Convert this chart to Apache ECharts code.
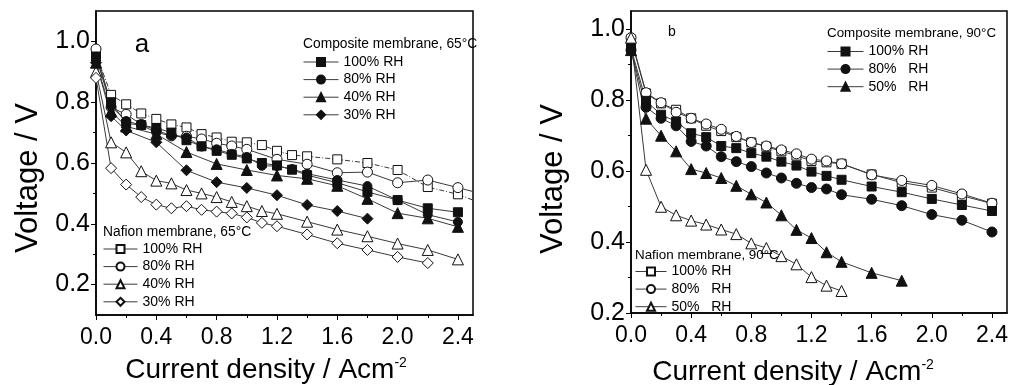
<!DOCTYPE html>
<html>
<head>
<meta charset="utf-8">
<script src="https://cdn.jsdelivr.net/npm/echarts@6/dist/echarts.min.js"></script>
<style>
  html, body { margin: 0; padding: 0; background: #fff; }
  #chart { width: 1011px; height: 385px; }
</style>
</head>
<body>
<div id="chart"></div>
<script>
// ---- Polarization data: current density (A cm^-2) and cell voltage (V) ----

// Panel a, 65 °C
const jA_comp100 = [0, 0.1, 0.2, 0.3, 0.4, 0.5, 0.6, 0.7, 0.8, 0.9, 1.0, 1.1, 1.2, 1.3, 1.4, 1.6, 1.8, 2.0, 2.2, 2.4];
const vA_comp100 = [0.95, 0.800, 0.730, 0.725, 0.715, 0.700, 0.675, 0.655, 0.640, 0.627, 0.615, 0.600, 0.592, 0.578, 0.560, 0.535, 0.505, 0.478, 0.451, 0.438];
const jA_comp80 = [0, 0.1, 0.2, 0.3, 0.4, 0.5, 0.6, 0.7, 0.8, 0.9, 1.0, 1.1, 1.2, 1.3, 1.4, 1.6, 1.8, 2.0, 2.2, 2.4];
const vA_comp80 = [0.95, 0.786, 0.738, 0.725, 0.700, 0.690, 0.684, 0.654, 0.645, 0.630, 0.620, 0.591, 0.590, 0.580, 0.565, 0.544, 0.524, 0.478, 0.430, 0.406];
const jA_comp40 = [0, 0.1, 0.2, 0.4, 0.6, 0.8, 1.0, 1.2, 1.4, 1.6, 1.8, 2.0, 2.2, 2.4];
const vA_comp40 = [0.93, 0.770, 0.720, 0.695, 0.636, 0.597, 0.577, 0.559, 0.548, 0.525, 0.482, 0.435, 0.418, 0.390];
const jA_comp30 = [0, 0.1, 0.2, 0.4, 0.6, 0.8, 1.0, 1.2, 1.4, 1.6, 1.8];
const vA_comp30 = [0.93, 0.754, 0.707, 0.668, 0.576, 0.537, 0.518, 0.494, 0.462, 0.442, 0.417];

const jA_naf100 = [0, 0.1, 0.2, 0.3, 0.4, 0.5, 0.6, 0.7, 0.8, 0.9, 1.0, 1.1, 1.2, 1.3, 1.4, 1.6, 1.8, 2.0, 2.2, 2.4, 2.5];
const vA_naf100 = [0.96, 0.824, 0.793, 0.763, 0.745, 0.727, 0.717, 0.695, 0.684, 0.670, 0.668, 0.659, 0.640, 0.626, 0.622, 0.612, 0.600, 0.577, 0.521, 0.497, 0.478];
const jA_naf80 = [0, 0.1, 0.2, 0.3, 0.4, 0.5, 0.6, 0.7, 0.8, 0.9, 1.0, 1.2, 1.4, 1.6, 1.8, 2.0, 2.2, 2.4, 2.5];
const vA_naf80 = [0.975, 0.783, 0.760, 0.727, 0.708, 0.689, 0.688, 0.679, 0.665, 0.656, 0.645, 0.612, 0.596, 0.568, 0.570, 0.535, 0.544, 0.519, 0.506];
const jA_naf40 = [0, 0.1, 0.2, 0.3, 0.4, 0.5, 0.6, 0.7, 0.8, 0.9, 1.0, 1.1, 1.2, 1.4, 1.6, 1.8, 2.0, 2.2, 2.4];
const vA_naf40 = [0.90, 0.668, 0.635, 0.573, 0.542, 0.533, 0.511, 0.500, 0.488, 0.472, 0.458, 0.442, 0.433, 0.407, 0.381, 0.359, 0.335, 0.314, 0.283];
const jA_naf30 = [0, 0.1, 0.2, 0.3, 0.4, 0.5, 0.6, 0.7, 0.8, 0.9, 1.0, 1.1, 1.2, 1.4, 1.6, 1.8, 2.0, 2.2];
const vA_naf30 = [0.88, 0.583, 0.529, 0.488, 0.463, 0.451, 0.458, 0.446, 0.440, 0.434, 0.421, 0.403, 0.392, 0.365, 0.336, 0.314, 0.291, 0.271];

// Panel b, 90 °C
const jB_comp100 = [0, 0.1, 0.2, 0.3, 0.4, 0.5, 0.6, 0.7, 0.8, 0.9, 1.0, 1.1, 1.2, 1.3, 1.4, 1.6, 1.8, 2.0, 2.2, 2.4];
const vB_comp100 = [0.945, 0.797, 0.758, 0.739, 0.706, 0.695, 0.670, 0.664, 0.650, 0.640, 0.626, 0.615, 0.598, 0.586, 0.575, 0.556, 0.540, 0.521, 0.504, 0.487];
const jB_comp80 = [0, 0.1, 0.2, 0.3, 0.4, 0.5, 0.6, 0.7, 0.8, 0.9, 1.0, 1.1, 1.2, 1.3, 1.4, 1.6, 1.8, 2.0, 2.2, 2.4];
const vB_comp80 = [0.94, 0.779, 0.748, 0.727, 0.683, 0.670, 0.640, 0.626, 0.612, 0.594, 0.580, 0.565, 0.553, 0.549, 0.533, 0.520, 0.502, 0.477, 0.461, 0.428];
const jB_comp50 = [0, 0.1, 0.2, 0.3, 0.4, 0.5, 0.6, 0.7, 0.8, 0.9, 1.0, 1.1, 1.2, 1.3, 1.4, 1.6, 1.8];
const vB_comp50 = [0.94, 0.747, 0.699, 0.655, 0.605, 0.594, 0.580, 0.558, 0.534, 0.511, 0.475, 0.434, 0.411, 0.371, 0.344, 0.313, 0.291];

const jB_naf100 = [0, 0.1, 0.2, 0.3, 0.4, 0.5, 0.6, 0.7, 0.8, 0.9, 1.0, 1.1, 1.2, 1.3, 1.4, 1.6, 1.8, 2.0, 2.2, 2.4];
const vB_naf100 = [0.97, 0.818, 0.790, 0.772, 0.748, 0.727, 0.712, 0.695, 0.680, 0.668, 0.655, 0.643, 0.628, 0.624, 0.620, 0.590, 0.567, 0.553, 0.530, 0.508];
const jB_naf80 = [0, 0.1, 0.2, 0.3, 0.4, 0.5, 0.6, 0.7, 0.8, 0.9, 1.0, 1.1, 1.2, 1.3, 1.4, 1.6, 1.8, 2.0, 2.2, 2.4];
const vB_naf80 = [0.975, 0.820, 0.792, 0.765, 0.748, 0.732, 0.717, 0.697, 0.680, 0.670, 0.659, 0.648, 0.633, 0.628, 0.620, 0.589, 0.573, 0.559, 0.535, 0.509];
const jB_naf50 = [0, 0.1, 0.2, 0.3, 0.4, 0.5, 0.6, 0.7, 0.8, 0.9, 1.0, 1.1, 1.2, 1.3, 1.4];
const vB_naf50 = [0.975, 0.603, 0.499, 0.475, 0.460, 0.449, 0.435, 0.422, 0.396, 0.383, 0.360, 0.337, 0.301, 0.277, 0.262];

// Axis ticks
const xMajorTicks = [0, 0.4, 0.8, 1.2, 1.6, 2.0, 2.4];
const xMinorTicks = [0.2, 0.6, 1.0, 1.4, 1.8, 2.2];
const yMajorTicks = [0.2, 0.4, 0.6, 0.8, 1.0];
const yMinorTicksA = [0.3, 0.5, 0.7, 0.9];
const yMinorTicksB = [0.3, 0.5, 0.7, 0.9];

// Legend captions
const legendLabels = {
  'comp65-100': '100% RH', 'comp65-80': '80% RH', 'comp65-40': '40% RH', 'comp65-30': '30% RH',
  'naf65-100': '100% RH', 'naf65-80': '80% RH', 'naf65-40': '40% RH', 'naf65-30': '30% RH',
  'comp90-100': '100% RH', 'comp90-80': '80%   RH', 'comp90-50': '50%   RH',
  'naf90-100': '100% RH', 'naf90-80': '80%   RH', 'naf90-50': '50%   RH'
};

const FONT = 'Liberation Sans, Arial, sans-serif';
const INK = '#000';
const LINE = '#3a3a3a';
const X_EDGE = 2.5;   // right edge of the current-density axis

function makeSeries(name, xs, ys, panel, symbol, size, filled, dashed) {
  return {
    name: name,
    type: 'line',
    xAxisIndex: panel * 2,
    yAxisIndex: panel * 2,
    symbol: symbol,
    symbolSize: size,
    showAllSymbol: true,
    clip: true,
    lineStyle: { color: LINE, width: 1, type: dashed ? [5, 2, 1, 2] : 'solid' },
    itemStyle: { color: filled ? '#111' : '#fff', borderColor: '#111', borderWidth: 1 },
    emphasis: { disabled: true },
    data: xs.map((x, i) => x >= X_EDGE
      ? { value: [x, ys[i]], symbol: 'none' }   // line runs on to the frame
      : [x, ys[i]])
  };
}

const series = [
  makeSeries('naf65-100', jA_naf100, vA_naf100, 0, 'rect', 9, false, true),
  makeSeries('naf65-80', jA_naf80, vA_naf80, 0, 'circle', 10, false, false),
  makeSeries('naf65-40', jA_naf40, vA_naf40, 0, 'triangle', 11, false, false),
  makeSeries('naf65-30', jA_naf30, vA_naf30, 0, 'diamond', 11, false, false),
  makeSeries('comp65-100', jA_comp100, vA_comp100, 0, 'rect', 9, true, false),
  makeSeries('comp65-80', jA_comp80, vA_comp80, 0, 'circle', 9, true, false),
  makeSeries('comp65-40', jA_comp40, vA_comp40, 0, 'triangle', 11, true, false),
  makeSeries('comp65-30', jA_comp30, vA_comp30, 0, 'diamond', 11, true, false),

  makeSeries('naf90-100', jB_naf100, vB_naf100, 1, 'rect', 9, false, false),
  makeSeries('naf90-80', jB_naf80, vB_naf80, 1, 'circle', 10, false, false),
  makeSeries('naf90-50', jB_naf50, vB_naf50, 1, 'triangle', 11, false, false),
  makeSeries('comp90-100', jB_comp100, vB_comp100, 1, 'rect', 9, true, false),
  makeSeries('comp90-80', jB_comp80, vB_comp80, 1, 'circle', 10, true, false),
  makeSeries('comp90-50', jB_comp50, vB_comp50, 1, 'triangle', 11, true, false)
];

const fmt1 = v => v.toFixed(1);

function xAxes(gridIndex) {
  return [
    {
      type: 'value', gridIndex: gridIndex, min: 0, max: X_EDGE,
      axisLine: { show: true, onZero: false, lineStyle: { color: INK, width: 1.5 } },
      axisTick: { show: true, inside: false, length: 5, customValues: xMajorTicks, lineStyle: { color: INK, width: 1 } },
      axisLabel: { show: true, customValues: xMajorTicks, formatter: fmt1, margin: 11,
                   fontSize: 23, fontFamily: FONT, color: INK },
      splitLine: { show: false }
    },
    {
      type: 'value', gridIndex: gridIndex, min: 0, max: X_EDGE, position: 'bottom',
      axisLine: { show: false, onZero: false },
      axisTick: { show: true, inside: false, length: 3, customValues: xMinorTicks, lineStyle: { color: INK, width: 1 } },
      axisLabel: { show: false },
      splitLine: { show: false }
    }
  ];
}

function yAxes(gridIndex, min, max, minor) {
  return [
    {
      type: 'value', gridIndex: gridIndex, min: min, max: max,
      axisLine: { show: true, onZero: false, lineStyle: { color: INK, width: 1.5 } },
      axisTick: { show: true, inside: false, length: 5, customValues: yMajorTicks, lineStyle: { color: INK, width: 1 } },
      axisLabel: { show: true, customValues: yMajorTicks, formatter: fmt1, margin: 6,
                   fontSize: 25, fontFamily: FONT, color: INK },
      splitLine: { show: false }
    },
    {
      type: 'value', gridIndex: gridIndex, min: min, max: max, position: 'left',
      axisLine: { show: false, onZero: false },
      axisTick: { show: true, inside: false, length: 3, customValues: minor, lineStyle: { color: INK, width: 1 } },
      axisLabel: { show: false },
      splitLine: { show: false }
    }
  ];
}

function legendBlock(names, left, top, iconWidth) {
  return {
    orient: 'vertical', left: left, top: top, padding: 0,
    itemWidth: iconWidth, itemHeight: 10, itemGap: 3.6,
    selectedMode: false,
    data: names,
    formatter: n => legendLabels[n],
    lineStyle: { type: 'solid', width: 1 },
    textStyle: { fontSize: 14, fontFamily: FONT, color: INK }
  };
}

function label(text, x, y, size, extra) {
  return {
    type: 'text', x: x, y: y, z: 100, silent: true,
    style: Object.assign({ text: text, fontSize: size, fontFamily: FONT, fill: INK,
                           align: 'left', verticalAlign: 'middle' }, extra || {})
  };
}

const xTitleRich = {
  t: { fontSize: 28, fontFamily: FONT, fill: INK },
  s: { fontSize: 14, fontFamily: FONT, fill: INK, padding: [0, 0, 14, 0] }
};

const option = {
  animation: false,
  backgroundColor: '#fff',
  grid: [
    { left: 96, top: 11, width: 377, height: 304, show: true, borderColor: INK, borderWidth: 1.5, backgroundColor: 'transparent' },
    { left: 631, top: 11, width: 376, height: 302, show: true, borderColor: INK, borderWidth: 1.5, backgroundColor: 'transparent' }
  ],
  xAxis: [...xAxes(0), ...xAxes(1)],
  yAxis: [...yAxes(0, 0.1, 1.1, yMinorTicksA), ...yAxes(1, 0.2, 1.05, yMinorTicksB)],
  legend: [
    legendBlock(['comp65-100', 'comp65-80', 'comp65-40', 'comp65-30'], 303, 55, 35),
    legendBlock(['naf65-100', 'naf65-80', 'naf65-40', 'naf65-30'], 103, 242, 34),
    legendBlock(['comp90-100', 'comp90-80', 'comp90-50'], 827, 44.5, 36),
    legendBlock(['naf90-100', 'naf90-80', 'naf90-50'], 635, 264.5, 31)
  ],
  graphic: [
    label('a', 142, 45, 26, { align: 'center' }),
    label('b', 672, 32, 14, { align: 'center' }),
    label('Composite membrane, 65°C', 303, 44, 13.8),
    label('Nafion membrane, 65°C', 103, 232, 13.8),
    label('Composite membrane, 90°C', 827, 33, 13.4),
    label('Nafion membrane, 90°C', 635, 255, 13.4),
    Object.assign(label('Voltage / V', 28, 178, 31, { align: 'center' }), { rotation: Math.PI / 2 }),
    Object.assign(label('Voltage / V', 553, 179, 31, { align: 'center' }), { rotation: Math.PI / 2 }),
    label('{t|Current density / Acm}{s|-2}', 266, 370, 28, { align: 'center', rich: xTitleRich }),
    label('{t|Current density / Acm}{s|-2}', 793, 372, 28, { align: 'center', rich: xTitleRich })
  ],
  series: series
};

const chart = echarts.init(document.getElementById('chart'), null, { renderer: 'canvas' });
chart.setOption(option);
</script>
</body>
</html>
